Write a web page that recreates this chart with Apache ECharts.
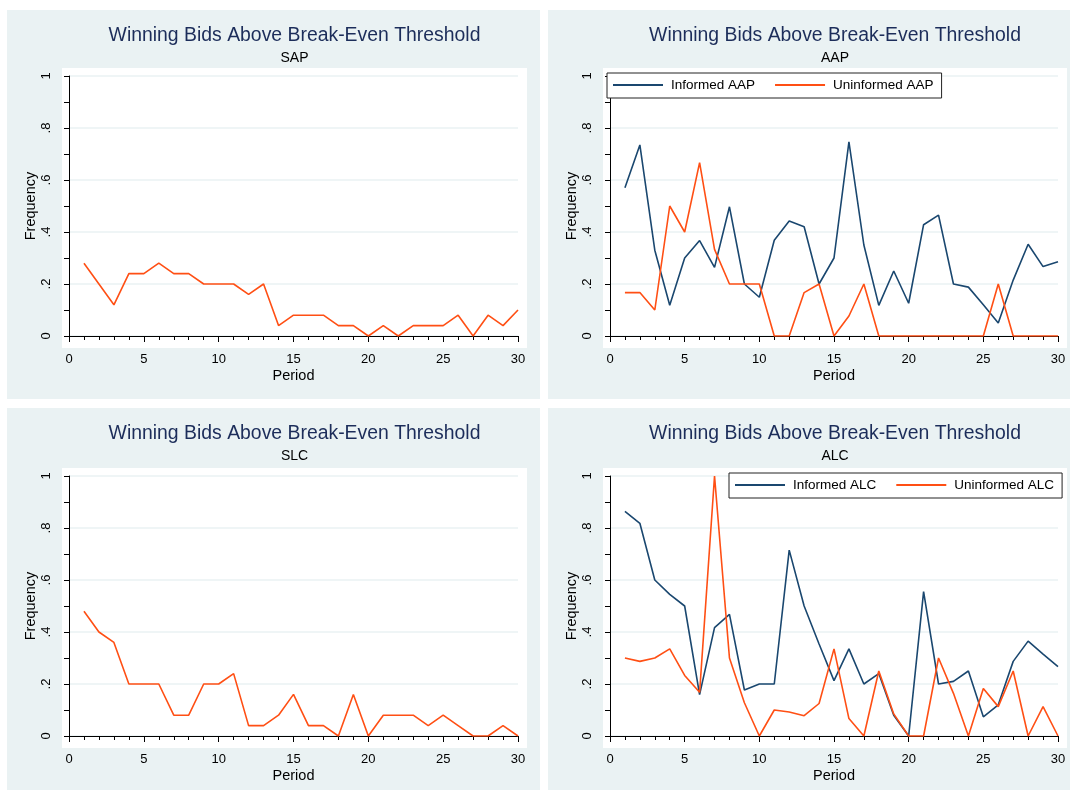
<!DOCTYPE html>
<html>
<head>
<meta charset="utf-8">
<title>Winning Bids Above Break-Even Threshold</title>
<script src="https://cdn.jsdelivr.net/npm/echarts@6/dist/echarts.min.js"></script>
<style>
  html, body { margin: 0; padding: 0; background: #fff; }
  #chart { width: 1070px; height: 792px; }
</style>
</head>
<body>
<div id="chart"></div>
<script>
// periods 1..30 on the x axis
const periods = [1, 2, 3, 4, 5, 6, 7, 8, 9, 10, 11, 12, 13, 14, 15,
  16, 17, 18, 19, 20, 21, 22, 23, 24, 25, 26, 27, 28, 29, 30]

// frequency of winning bids above the break-even threshold
const sap = [0.28, 0.20, 0.12, 0.24, 0.24, 0.28, 0.24, 0.24, 0.20, 0.20,
  0.20, 0.16, 0.20, 0.04, 0.08, 0.08, 0.08, 0.04, 0.04, 0.00,
  0.04, 0.00, 0.04, 0.04, 0.04, 0.08, 0.00, 0.08, 0.04, 0.10]
const slc = [0.48, 0.40, 0.36, 0.20, 0.20, 0.20, 0.08, 0.08, 0.20, 0.20,
  0.24, 0.04, 0.04, 0.08, 0.16, 0.04, 0.04, 0.00, 0.16, 0.00,
  0.08, 0.08, 0.08, 0.04, 0.08, 0.04, 0.00, 0.00, 0.04, 0.00]
const informedAAP = [0.57, 0.735, 0.33, 0.118, 0.30, 0.367, 0.264, 0.497, 0.20, 0.149,
  0.368, 0.442, 0.42, 0.20, 0.30, 0.747, 0.35, 0.118, 0.25, 0.126,
  0.428, 0.465, 0.20, 0.188, 0.12, 0.05, 0.215, 0.353, 0.267, 0.286]
const uninformedAAP = [0.167, 0.167, 0.10, 0.50, 0.40, 0.667, 0.333, 0.20, 0.20, 0.20,
  0.00, 0.00, 0.167, 0.20, 0.00, 0.077, 0.20, 0.00, 0.00, 0.00,
  0.00, 0.00, 0.00, 0.00, 0.00, 0.20, 0.00, 0.00, 0.00, 0.00]
const informedALC = [0.864, 0.818, 0.60, 0.545, 0.50, 0.159, 0.417, 0.468, 0.177, 0.20,
  0.20, 0.715, 0.50, 0.354, 0.213, 0.335, 0.20, 0.24, 0.08, 0.00,
  0.555, 0.20, 0.21, 0.25, 0.074, 0.12, 0.287, 0.365, 0.315, 0.267]
const uninformedALC = [0.30, 0.287, 0.30, 0.335, 0.233, 0.168, 1.00, 0.30, 0.128, 0.00,
  0.10, 0.092, 0.078, 0.125, 0.335, 0.067, 0.00, 0.25, 0.085, 0.00,
  0.00, 0.30, 0.164, 0.00, 0.183, 0.113, 0.25, 0.00, 0.113, 0.00]

const xTicks = [0, 5, 10, 15, 20, 25, 30]
const yTicks = [0, 0.2, 0.4, 0.6, 0.8, 1]

const mainTitle = 'Winning Bids Above Break-Even Threshold'
const subTitles = ['SAP', 'AAP', 'SLC', 'ALC']

const NAVY = '#1a476f'
const ORANGE = '#ff4f14'
const PANEL = '#eaf2f3'
const FONT = '"Liberation Sans", Arial, sans-serif'

// panel layout: background box, white plot region and data grid for each of the four graphs
const panels = [
  {bg: [7, 10, 533, 389], plot: [62, 68, 465, 280], grid: [69, 76, 449, 260]},
  {bg: [548, 10, 522, 389], plot: [603, 68, 464, 280], grid: [610, 76, 448, 260]},
  {bg: [7, 408, 533, 382], plot: [62, 468, 465, 280], grid: [69, 476, 449, 260]},
  {bg: [548, 408, 522, 382], plot: [603, 468, 464, 280], grid: [610, 476, 448, 260]}
]

function pairs(values) {
  return periods.map((p, i) => [p, values[i]])
}

function yLabel(v) {
  if (v === 0) return '0'
  if (v === 1) return '1'
  return v.toFixed(1).replace(/^0/, '')
}

const chart = echarts.init(document.getElementById('chart'), null, {renderer: 'canvas'})

const graphic = []
panels.forEach(p => {
  graphic.push({
    type: 'rect', z: -20, silent: true,
    shape: {x: p.bg[0], y: p.bg[1], width: p.bg[2], height: p.bg[3]},
    style: {fill: PANEL}
  })
  graphic.push({
    type: 'rect', z: -10, silent: true,
    shape: {x: p.plot[0], y: p.plot[1], width: p.plot[2], height: p.plot[3]},
    style: {fill: '#fff'}
  })
})

const titles = []
panels.forEach((p, i) => {
  const cx = p.plot[0] + p.plot[2] / 2 - 5
  titles.push({
    text: mainTitle, left: cx, top: p.bg[1] + 11, textAlign: 'center',
    textStyle: {fontFamily: FONT, fontSize: 19.4, fontWeight: 'normal', color: '#1c2d5a'}
  })
  titles.push({
    text: subTitles[i], left: cx, top: p.bg[1] + 36, textAlign: 'center',
    textStyle: {fontFamily: FONT, fontSize: 14, fontWeight: 'normal', color: '#000'}
  })
})

const grids = panels.map(p => ({
  left: p.grid[0], top: p.grid[1], width: p.grid[2], height: p.grid[3],
  containLabel: false
}))

const xAxes = panels.map((p, i) => ({
  type: 'value', gridIndex: i, min: xTicks[0], max: xTicks[xTicks.length - 1], interval: 5,
  offset: 10,
  name: 'Period', nameLocation: 'middle', nameGap: 22,
  nameTextStyle: {fontFamily: FONT, fontSize: 14.5, color: '#000'},
  axisLine: {show: true, lineStyle: {color: '#000', width: 1}},
  axisTick: {show: true, length: 6, lineStyle: {color: '#000'}},
  minorTick: {show: true, splitNumber: 5, length: 4, lineStyle: {color: '#000'}},
  axisLabel: {fontFamily: FONT, fontSize: 13, color: '#000', margin: 7},
  splitLine: {show: false}
}))

const yAxes = panels.map((p, i) => ({
  type: 'value', gridIndex: i, min: yTicks[0], max: yTicks[yTicks.length - 1], interval: 0.2,
  offset: 7,
  name: 'Frequency', nameLocation: 'middle', nameGap: 24,
  nameTextStyle: {fontFamily: FONT, fontSize: 14.5, color: '#000'},
  axisLine: {show: true, lineStyle: {color: '#000', width: 1}},
  axisTick: {show: true, length: 5, lineStyle: {color: '#000'}},
  minorTick: {show: true, splitNumber: 2, length: 5, lineStyle: {color: '#000'}},
  axisLabel: {fontFamily: FONT, fontSize: 13, color: '#000', margin: 9, rotate: 90,
    formatter: yLabel},
  splitLine: {show: true, lineStyle: {color: PANEL, width: 1.5}}
}))

function line(name, values, idx, color) {
  return {
    name: name, type: 'line', xAxisIndex: idx, yAxisIndex: idx,
    data: pairs(values), symbol: 'none', silent: true,
    lineStyle: {color: color, width: 1.6}, itemStyle: {color: color}
  }
}

const legendBase = {
  orient: 'horizontal', icon: 'rect', itemWidth: 50, itemHeight: 2, itemGap: 20,
  backgroundColor: '#fff', borderColor: '#222', borderWidth: 1, borderRadius: 0,
  padding: [5, 8, 6, 6], selectedMode: false,
  textStyle: {fontFamily: FONT, fontSize: 13.5, color: '#000', padding: [0, 0, 0, 3]}
}

const option = {
  backgroundColor: '#fff',
  animation: false,
  textStyle: {fontFamily: FONT},
  graphic: graphic,
  title: titles,
  grid: grids,
  xAxis: xAxes,
  yAxis: yAxes,
  legend: [
    Object.assign({}, legendBase, {data: ['Informed AAP', 'Uninformed AAP'], left: 607, top: 73}),
    Object.assign({}, legendBase, {data: ['Informed ALC', 'Uninformed ALC'], left: 729, top: 473})
  ],
  series: [
    line('SAP', sap, 0, ORANGE),
    line('Informed AAP', informedAAP, 1, NAVY),
    line('Uninformed AAP', uninformedAAP, 1, ORANGE),
    line('SLC', slc, 2, ORANGE),
    line('Informed ALC', informedALC, 3, NAVY),
    line('Uninformed ALC', uninformedALC, 3, ORANGE)
  ]
}

option && chart.setOption(option)
</script>
</body>
</html>
